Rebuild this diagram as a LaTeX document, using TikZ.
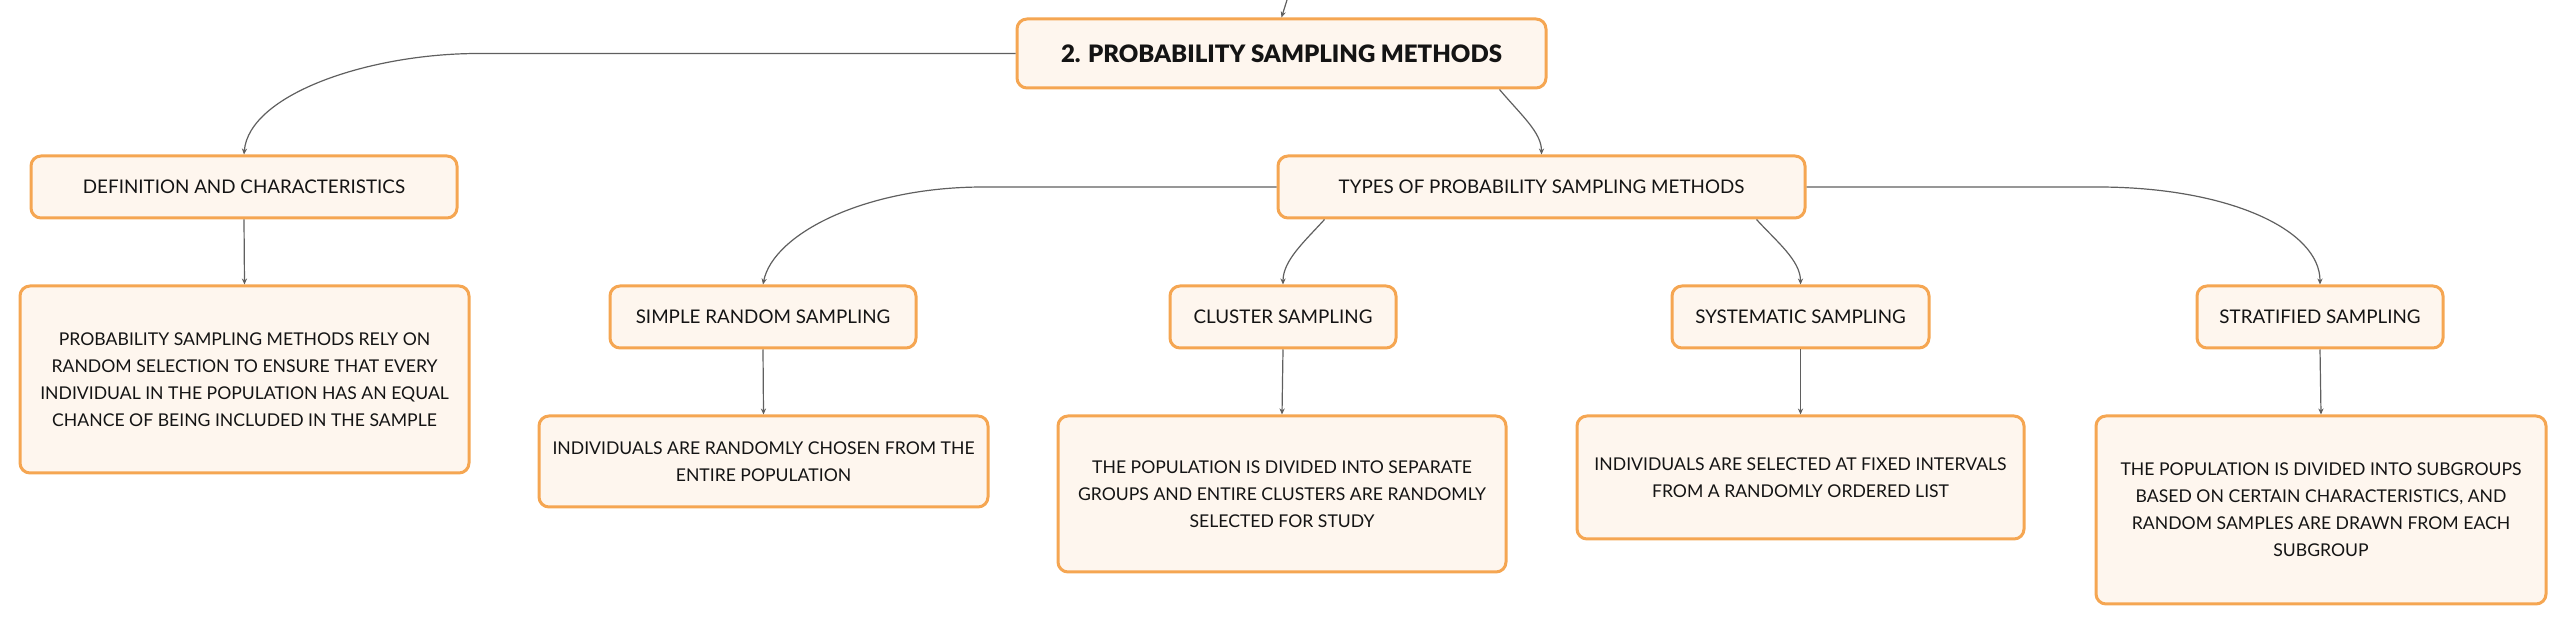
\documentclass[tikz,border=0pt]{standalone}
\usepackage{fontspec}
\setmainfont{Lato}
\newfontfamily\rootfont{Lato Black}
\usetikzlibrary{arrows.meta,calc}
\definecolor{boxline}{RGB}{245,166,82}
\definecolor{boxfill}{RGB}{254,246,238}
\definecolor{linkgray}{RGB}{95,95,95}
\begin{document}
\begin{tikzpicture}[x=0.5pt,y=-0.5pt,
    box/.style={draw=boxline, fill=boxfill, line width=1.5pt, rounded corners=5pt, align=center, inner sep=0pt, text=black!92, font=\fontsize{9.4}{13.5}\selectfont},
    detail/.style={box, font=\fontsize{8.8}{13.5}\selectfont},
    link/.style={draw=linkgray, line width=0.6pt, -{Stealth[length=3pt,width=2.6pt]}}]
            \useasboundingbox (0,0) rectangle (2565,624);
            \node[box, minimum width=264.5pt, minimum height=34.5pt, font=\fontsize{12}{14}\rootfont] (root) at (1281.5,53.5) {2. PROBABILITY SAMPLING METHODS};
            \node[box, minimum width=213pt, minimum height=31pt] (def) at (244,187) {DEFINITION AND CHARACTERISTICS};
            \node[box, minimum width=263.5pt, minimum height=31pt] (types) at (1541.5,187) {TYPES OF PROBABILITY SAMPLING METHODS};
            \node[box, minimum width=153pt, minimum height=31pt] (simple) at (763,317) {SIMPLE RANDOM SAMPLING};
            \node[box, minimum width=113pt, minimum height=31pt] (cluster) at (1283,317) {CLUSTER SAMPLING};
            \node[box, minimum width=128.5pt, minimum height=31pt] (syst) at (1800.5,317) {SYSTEMATIC SAMPLING};
            \node[box, minimum width=123pt, minimum height=31pt] (strat) at (2320,317) {STRATIFIED SAMPLING};
            \node[detail, minimum width=224.5pt, minimum height=93.5pt] (defd) at (244.5,379.5) {PROBABILITY SAMPLING METHODS RELY ON\\RANDOM SELECTION TO ENSURE THAT EVERY\\INDIVIDUAL IN THE POPULATION HAS AN EQUAL\\CHANCE OF BEING INCLUDED IN THE SAMPLE};
            \node[detail, minimum width=224.5pt, minimum height=45.5pt] (simpled) at (763.5,461.5) {INDIVIDUALS ARE RANDOMLY CHOSEN FROM THE\\ENTIRE POPULATION};
            \node[detail, minimum width=224pt, minimum height=78pt] (clusterd) at (1282,494) {THE POPULATION IS DIVIDED INTO SEPARATE\\GROUPS AND ENTIRE CLUSTERS ARE RANDOMLY\\SELECTED FOR STUDY};
            \node[detail, minimum width=223.5pt, minimum height=61.5pt] (systd) at (1800.5,477.5) {INDIVIDUALS ARE SELECTED AT FIXED INTERVALS\\FROM A RANDOMLY ORDERED LIST};
            \node[detail, minimum width=225pt, minimum height=94pt] (stratd) at (2321,510) {THE POPULATION IS DIVIDED INTO SUBGROUPS\\BASED ON CERTAIN CHARACTERISTICS, AND\\RANDOM SAMPLES ARE DRAWN FROM EACH\\SUBGROUP};
            \coordinate (in) at (1287,0);
            \draw[link] (in) -- (root.north);
            \draw[link] (root.west) -- ++(-537,0) .. controls +(-110,0) and +(5,-60) .. (def.north);
            \draw[link] ($(root.south east)+(-48,0)$) .. controls +(22,26) and +(0,-22) .. (types.north);
            \draw[link] (types.west) -- ++(-293,0) .. controls +(-120,0) and +(10,-50) .. (simple.north);
            \draw[link] ($(types.south west)+(48,0)$) .. controls +(-20,22) and +(0,-24) .. (cluster.north);
            \draw[link] ($(types.south east)+(-50,0)$) .. controls +(20,22) and +(0,-24) .. (syst.north);
            \draw[link] (types.east) -- ++(291,0) .. controls +(130,0) and +(0,-55) .. (strat.north);
            \draw[link] (def.south) -- (defd.north);
            \draw[link] (simple.south) -- (simpled.north);
            \draw[link] (cluster.south) -- (clusterd.north);
            \draw[link] (syst.south) -- (systd.north);
            \draw[link] (strat.south) -- (stratd.north);
        \end{tikzpicture}
\end{document}
